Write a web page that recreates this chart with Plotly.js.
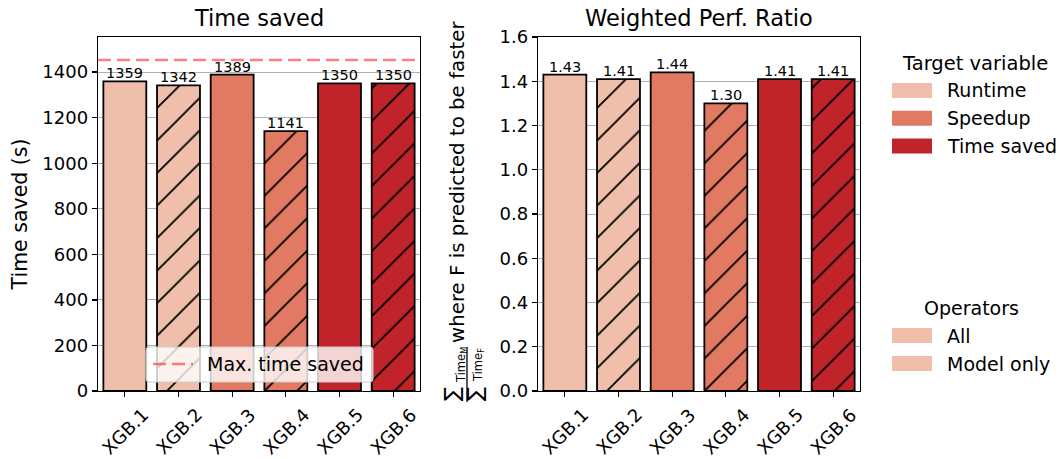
<!DOCTYPE html>
<html>
<head>
<meta charset="utf-8">
<script src="https://cdn.plot.ly/plotly-3.0.1.min.js"></script>
<style>html,body{margin:0;padding:0;background:#fff;}#chart{width:1060px;height:459px;}</style>
</head>
<body>
<div id="chart"></div>
<script>
// ---- data ----
var models = ['XGB.1', 'XGB.2', 'XGB.3', 'XGB.4', 'XGB.5', 'XGB.6'];
var timeSaved = [1359, 1342, 1389, 1141, 1350, 1350];
var perfRatio = [1.43, 1.41, 1.44, 1.30, 1.41, 1.41];
var targetVariable = ['Runtime', 'Runtime', 'Speedup', 'Speedup', 'Time saved', 'Time saved'];
var operators = ['All', 'Model only', 'All', 'Model only', 'All', 'Model only'];
var targetLevels = ['Runtime', 'Speedup', 'Time saved'];
var operatorLevels = ['All', 'Model only'];
var maxTimeSaved = 1453;
var leftTicks = [0, 200, 400, 600, 800, 1000, 1200, 1400];
var rightTicks = [0, 0.2, 0.4, 0.6, 0.8, 1.0, 1.2, 1.4, 1.6];

// ---- styling ----
var FONT = 'DejaVu Sans, sans-serif';
var targetColors = {'Runtime': '#f0bfab', 'Speedup': '#e27a63', 'Time saved': '#c1232a'};
var hatchOf = {'All': '', 'Model only': '/'};
var W = 1060, H = 459;
var L = 98, R = 860, T = 37, B = 391;
function px(x) { return (x - L) / (R - L); }
function py(y) { return (B - y) / (B - T); }

// one trace per (target variable, operators) group so each gets its own solid colour + hatch
var data = [];
function addGroupTraces(vals, xa, ya) {
  targetLevels.forEach(function (t) {
    operatorLevels.forEach(function (o) {
      var xs = [], ys = [];
      models.forEach(function (m, i) {
        if (targetVariable[i] === t && operators[i] === o) { xs.push(m); ys.push(vals[i]); }
      });
      if (!xs.length) return;
      var marker = {color: targetColors[t], line: {color: '#000', width: 1.8}};
      if (hatchOf[o]) {
        marker.pattern = {shape: hatchOf[o], fgcolor: '#000', fgopacity: 1, bgcolor: targetColors[t], size: 23, solidity: 0.08, fillmode: 'replace'};
      }
      data.push({type: 'bar', name: t + ' / ' + o, x: xs, y: ys, xaxis: xa, yaxis: ya, width: 0.8, showlegend: false, marker: marker});
    });
  });
}
addGroupTraces(timeSaved, 'x', 'y');
addGroupTraces(perfRatio, 'x2', 'y2');

var annotations = [];
var shapes = [];
function txt(text, x, y, size, opts) {
  var a = {text: text, xref: 'paper', yref: 'paper', x: px(x), y: py(y), showarrow: false, xanchor: 'center', yanchor: 'middle', font: {family: FONT, size: size, color: '#000'}};
  for (var k in (opts || {})) a[k] = opts[k];
  annotations.push(a);
}
// subplot titles
txt('Time saved', 259, 18, 22.5);
txt('Weighted Perf. Ratio', 699, 18, 22.5);

// bar value labels and rotated tick labels
models.forEach(function (m, i) {
  annotations.push({text: String(timeSaved[i]), xref: 'x', yref: 'y', x: m, y: timeSaved[i], showarrow: false, xanchor: 'center', yanchor: 'bottom', yshift: -2, font: {family: FONT, size: 14.5, color: '#000'}});
  annotations.push({text: perfRatio[i].toFixed(2), xref: 'x2', yref: 'y2', x: m, y: perfRatio[i], showarrow: false, xanchor: 'center', yanchor: 'bottom', yshift: -2, font: {family: FONT, size: 14.5, color: '#000'}});
  annotations.push({text: m, xref: 'x', yref: 'paper', x: m, y: py(431), showarrow: false, textangle: -45, xanchor: 'center', yanchor: 'middle', font: {family: FONT, size: 18, color: '#000'}});
  annotations.push({text: m, xref: 'x2', yref: 'paper', x: m, y: py(431), showarrow: false, textangle: -45, xanchor: 'center', yanchor: 'middle', font: {family: FONT, size: 18, color: '#000'}});
});

// max time saved line
shapes.push({type: 'line', xref: 'x domain', yref: 'y', x0: 0, x1: 1, y0: maxTimeSaved, y1: maxTimeSaved, line: {color: 'rgba(255,0,0,0.5)', width: 2.5, dash: '13px,6px'}, layer: 'above'});

// legend box for max time saved (rounded)
(function () {
  var x0 = 146, x1 = 373, y0 = 347, y1 = 382, r = 3;
  var p = 'M' + px(x0 + r) + ',' + py(y0) + ' L' + px(x1 - r) + ',' + py(y0) + ' Q' + px(x1) + ',' + py(y0) + ' ' + px(x1) + ',' + py(y0 + r) +
    ' L' + px(x1) + ',' + py(y1 - r) + ' Q' + px(x1) + ',' + py(y1) + ' ' + px(x1 - r) + ',' + py(y1) +
    ' L' + px(x0 + r) + ',' + py(y1) + ' Q' + px(x0) + ',' + py(y1) + ' ' + px(x0) + ',' + py(y1 - r) +
    ' L' + px(x0) + ',' + py(y0 + r) + ' Q' + px(x0) + ',' + py(y0) + ' ' + px(x0 + r) + ',' + py(y0) + ' Z';
  shapes.push({type: 'path', xref: 'paper', yref: 'paper', path: p, fillcolor: 'rgba(255,255,255,0.8)', line: {color: '#cccccc', width: 1}, layer: 'above'});
  shapes.push({type: 'line', xref: 'paper', yref: 'paper', x0: px(153), x1: px(193), y0: py(364), y1: py(364), line: {color: 'rgba(255,0,0,0.5)', width: 2.5, dash: '13px,6px'}, layer: 'above'});
  txt('Max. time saved', 205, 364, 19, {xanchor: 'left'});
})();

// right legends
txt('Target variable', 975, 63, 19.5);
targetLevels.forEach(function (t, i) {
  var yc = 90.5 + i * 27.7;
  shapes.push({type: 'rect', xref: 'paper', yref: 'paper', x0: px(892), x1: px(932), y0: py(yc - 7.5), y1: py(yc + 7.5), fillcolor: targetColors[t], line: {width: 0}});
  txt(t, 945, yc, 19, {xanchor: 'left'});
});
txt('Operators', 971, 308, 19);
operatorLevels.forEach(function (o, i) {
  var yc = 335.5 + i * 28;
  shapes.push({type: 'rect', xref: 'paper', yref: 'paper', x0: px(892), x1: px(932), y0: py(yc - 7.5), y1: py(yc + 7.5), fillcolor: targetColors['Runtime'], line: {width: 0}});
  txt(o, 945, yc, 19, {xanchor: 'left'});
});

// right y-axis label (fraction + text)
txt('where F is predicted to be faster', 458, 182, 19.8, {textangle: -90});
txt('\u2211', 452, 394, 21, {textangle: -90});
txt('Time<sub>M</sub>', 461, 365, 11.5, {textangle: -90});
txt('\u2211', 475, 394, 21, {textangle: -90});
txt('Time<sub>F</sub>', 478, 365, 11.5, {textangle: -90});
shapes.push({type: 'line', xref: 'paper', yref: 'paper', x0: px(467), x1: px(467), y0: py(347), y1: py(402), line: {color: '#000', width: 1.3}});

function xax(domain) {
  return {domain: domain, range: [-0.5, 5.5], type: 'category', categoryorder: 'array', categoryarray: models, showticklabels: false, ticks: 'outside', ticklen: 5, tickwidth: 1.3, tickcolor: '#000',
    showline: true, linecolor: '#000', linewidth: 1.3, mirror: true, showgrid: false, zeroline: false, fixedrange: true};
}
function yax(range, ticks, fmt, anchor) {
  return {anchor: anchor, range: range, tickvals: ticks, tickformat: fmt, ticks: 'outside', ticklen: 5, tickwidth: 1.3, tickcolor: '#000',
    tickfont: {family: FONT, size: 18, color: '#000'}, showline: true, linecolor: '#000', linewidth: 1.3, mirror: true,
    showgrid: true, gridcolor: '#b0b0b0', gridwidth: 1, zeroline: false, fixedrange: true};
}
var yLeft = yax([0, 1554], leftTicks, 'd', 'x');
yLeft.title = {text: 'Time saved (s)', font: {family: FONT, size: 20.5, color: '#000'}, standoff: 9};
var yRight = yax([0, 1.6], rightTicks, '.1f', 'x2');

var layout = {
  width: W, height: H,
  margin: {l: L, r: W - R, t: T, b: H - B, pad: 0},
  paper_bgcolor: '#fff', plot_bgcolor: '#fff',
  font: {family: FONT, color: '#000'},
  showlegend: false,
  barmode: 'overlay',
  xaxis: xax([0, px(420)]),
  xaxis2: xax([px(538), 1]),
  yaxis: yLeft,
  yaxis2: yRight,
  annotations: annotations,
  shapes: shapes
};
layout.xaxis.anchor = 'y';
layout.xaxis2.anchor = 'y2';

Plotly.newPlot('chart', data, layout, {displayModeBar: false, staticPlot: true});
</script>
</body>
</html>
